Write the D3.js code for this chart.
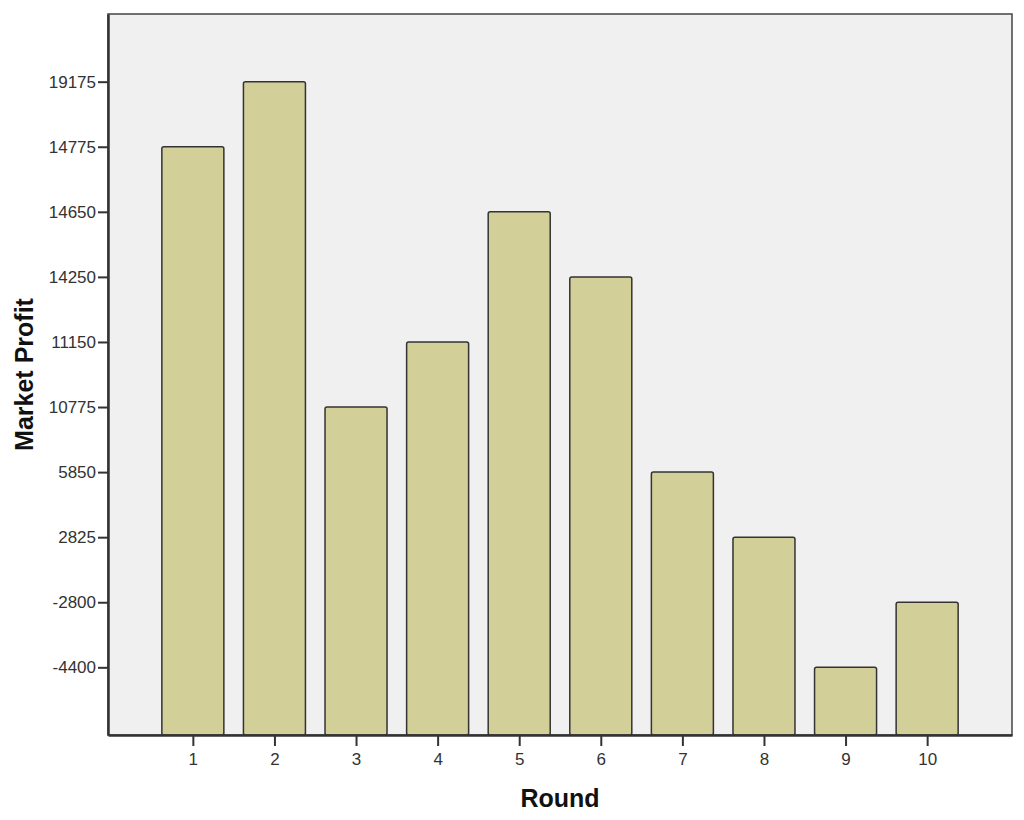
<!DOCTYPE html>
<html>
<head>
<meta charset="utf-8">
<script src="https://cdn.jsdelivr.net/npm/d3@7"></script>
<style>
  body { margin: 0; background: #fff; }
  .tick text { font-family: "Liberation Sans", Arial, sans-serif; font-size: 17px; fill: #333; }
  .axis-title { font-family: "Liberation Sans", Arial, sans-serif; font-weight: bold; font-size: 25px; fill: #111; }
</style>
</head>
<body>
<script>
// chart data
var rounds = ["1", "2", "3", "4", "5", "6", "7", "8", "9", "10"];
// y axis is categorical: the profit labels are shown as equally spaced categories
var profitLevels = ["-4400", "-2800", "2825", "5850", "10775", "11150", "14250", "14650", "14775", "19175"];
var roundProfit = ["14775", "19175", "10775", "11150", "14650", "14250", "5850", "2825", "-4400", "-2800"];

var svgWidth = 1024;
var svgHeight = 820;
var margin = { top: 14, right: 12, bottom: 85, left: 108 };
var chartWidth = svgWidth - margin.left - margin.right;
var chartHeight = svgHeight - margin.top - margin.bottom;

var svg = d3.select("body").append("svg")
    .attr("width", svgWidth)
    .attr("height", svgHeight);

var chartGroup = svg.append("g")
    .attr("transform", `translate(${margin.left}, ${margin.top})`);

// scales
var xScale = d3.scalePoint()
    .domain(rounds)
    .range([0, chartWidth])
    .padding(1.04);

var yScale = d3.scalePoint()
    .domain(profitLevels)
    .range([chartHeight, 0])
    .padding(1.04);

var barWidth = xScale.step() * 0.76;

// plot background
chartGroup.append("rect")
    .attr("width", chartWidth)
    .attr("height", chartHeight)
    .attr("fill", "#f0f0f0")
    .attr("stroke", "#444")
    .attr("stroke-width", 1.5);

// bars
chartGroup.selectAll(".bar")
    .data(rounds)
    .enter()
    .append("rect")
    .classed("bar", true)
    .attr("x", (d) => xScale(d) - barWidth / 2)
    .attr("y", (d, i) => yScale(roundProfit[i]))
    .attr("width", barWidth)
    .attr("height", (d, i) => chartHeight - yScale(roundProfit[i]))
    .attr("rx", 2)
    .attr("fill", "#d3cf98")
    .attr("stroke", "#333")
    .attr("stroke-width", 1.5);

// axes
var bottomAxis = d3.axisBottom(xScale).tickSizeInner(11).tickSizeOuter(0).tickPadding(7);
var leftAxis = d3.axisLeft(yScale).tickSizeInner(10).tickSizeOuter(0).tickPadding(2);

var xAxisGroup = chartGroup.append("g")
    .attr("transform", `translate(0, ${chartHeight})`)
    .call(bottomAxis);

var yAxisGroup = chartGroup.append("g")
    .call(leftAxis);

[xAxisGroup, yAxisGroup].forEach(function (g) {
    g.select(".domain").attr("stroke", "#333").attr("stroke-width", 2.5);
    g.selectAll(".tick line").attr("stroke", "#333").attr("stroke-width", 2);
});

// titles
svg.append("text")
    .attr("class", "axis-title")
    .attr("text-anchor", "middle")
    .attr("x", 560)
    .attr("y", 807)
    .text("Round");

svg.append("text")
    .attr("class", "axis-title")
    .attr("text-anchor", "middle")
    .attr("transform", `translate(33, ${margin.top + chartHeight / 2}) rotate(-90)`)
    .text("Market Profit");
</script>
</body>
</html>
